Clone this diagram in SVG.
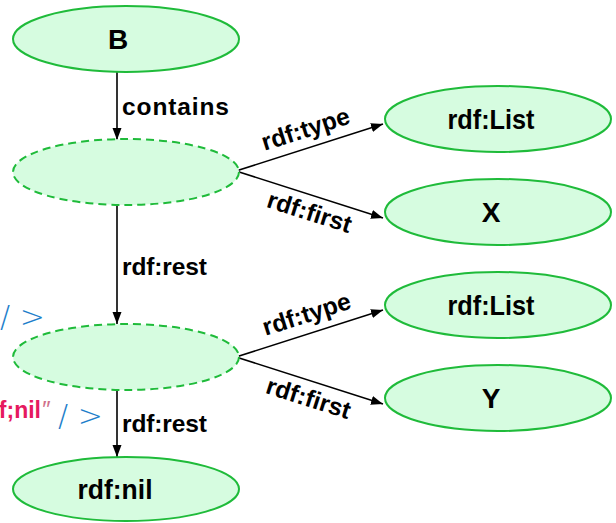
<svg xmlns="http://www.w3.org/2000/svg" width="616" height="523" viewBox="0 0 616 523">
  <style>
    .node { fill: #d6fce0; stroke: #1fbb3a; stroke-width: 2; }
    .blank { fill: #d6fce0; stroke: #1fbb3a; stroke-width: 2; stroke-dasharray: 8 5; }
    .nlabel { font-family: "Liberation Sans", Arial, sans-serif; font-weight: bold; font-size: 28px; fill: #000; text-anchor: middle; }
    .elabel { font-family: "Liberation Sans", Arial, sans-serif; font-weight: bold; font-size: 24.5px; fill: #000; }
    .edge { stroke: #000; stroke-width: 1.6; fill: none; marker-end: url(#arrow); }
    .markup { font-family: "DejaVu Sans", sans-serif; font-weight: 200; font-size: 30px; fill: #1e7fcb; }
    .ent { font-family: "Liberation Sans", Arial, sans-serif; font-weight: bold; font-size: 23px; fill: #e6195f; }
  </style>
  <defs>
    <marker id="arrow" markerUnits="userSpaceOnUse" markerWidth="13" markerHeight="10" refX="12" refY="4.5" orient="auto">
      <path d="M0,0 L12,4.5 L0,9 z" fill="#000"/>
    </marker>
  </defs>

  <!-- stray markup fragments at the left margin -->
  <text class="markup" x="0" y="327">/ &gt;</text>
  <text class="ent" x="41" y="418" text-anchor="end">f;nil</text>
  <text x="41" y="418" font-family="Liberation Sans, Arial, sans-serif" font-size="24" font-style="italic" fill="#d0708a">″</text>
  <text class="markup" x="58" y="426">/ &gt;</text>

  <g id="connectors">
    <line class="edge" x1="117" y1="72" x2="117" y2="140"/>
    <line class="edge" x1="117" y1="205" x2="117" y2="324"/>
    <line class="edge" x1="117" y1="390" x2="117" y2="457"/>
    <line class="edge" x1="236" y1="171" x2="383" y2="124"/>
    <line class="edge" x1="236" y1="171" x2="383" y2="218"/>
    <line class="edge" x1="236" y1="357" x2="383" y2="310"/>
    <line class="edge" x1="236" y1="357" x2="383" y2="404"/>
    <text class="elabel" x="122" y="115" textLength="107">contains</text>
    <text class="elabel" x="122" y="275" textLength="85">rdf:rest</text>
    <text class="elabel" x="122" y="432" textLength="85">rdf:rest</text>
    <text class="elabel" text-anchor="middle" transform="translate(308,137) rotate(-17.6)">rdf:type</text>
    <text class="elabel" text-anchor="middle" transform="translate(307,220) rotate(17.6)">rdf:first</text>
    <text class="elabel" text-anchor="middle" transform="translate(309,322) rotate(-17.6)">rdf:type</text>
    <text class="elabel" text-anchor="middle" transform="translate(306,406) rotate(17.6)">rdf:first</text>
  </g>

  <g id="node-B">
    <ellipse class="node" cx="126" cy="39" rx="113" ry="33"/>
    <text class="nlabel" x="118" y="49">B</text>
  </g>
  <g id="node-list1">
    <ellipse class="blank" cx="126" cy="172" rx="113" ry="33"/>
  </g>
  <g id="node-list2">
    <ellipse class="blank" cx="126" cy="357" rx="113" ry="33"/>
  </g>
  <g id="node-nil">
    <ellipse class="node" cx="126" cy="489" rx="113" ry="32"/>
    <text class="nlabel" x="115" y="499" textLength="75" lengthAdjust="spacingAndGlyphs">rdf:nil</text>
  </g>
  <g id="node-type1">
    <ellipse class="node" cx="498" cy="119" rx="113" ry="33"/>
    <text class="nlabel" x="491" y="129" textLength="87" lengthAdjust="spacingAndGlyphs">rdf:List</text>
  </g>
  <g id="node-X">
    <ellipse class="node" cx="498" cy="212" rx="113" ry="33"/>
    <text class="nlabel" x="491" y="222">X</text>
  </g>
  <g id="node-type2">
    <ellipse class="node" cx="498" cy="305" rx="113" ry="33"/>
    <text class="nlabel" x="491" y="315" textLength="87" lengthAdjust="spacingAndGlyphs">rdf:List</text>
  </g>
  <g id="node-Y">
    <ellipse class="node" cx="498" cy="398" rx="113" ry="33"/>
    <text class="nlabel" x="491" y="408">Y</text>
  </g>
</svg>
